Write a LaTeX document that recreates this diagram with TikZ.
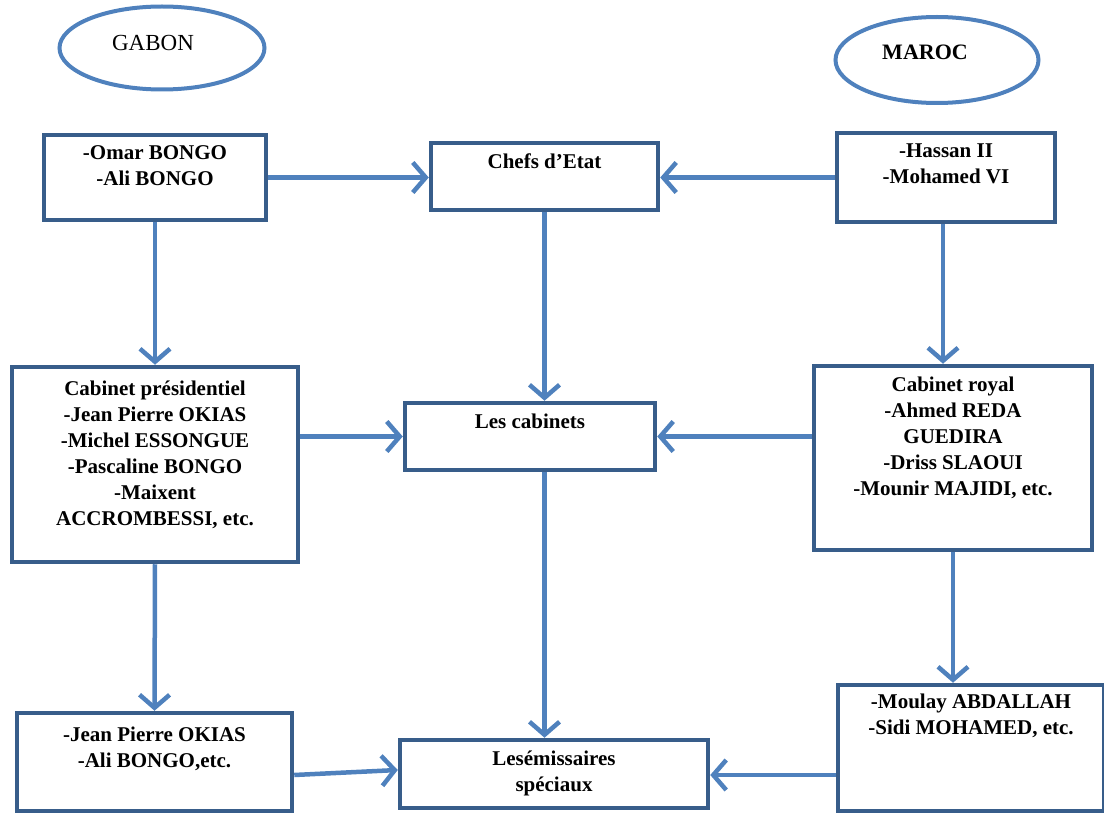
\documentclass[tikz,border=0pt]{standalone}
\usepackage{fontspec}
\setmainfont{Liberation Serif}
\usetikzlibrary{arrows.meta,shapes.geometric,positioning}

\definecolor{boxblue}{HTML}{385D8A}
\definecolor{arrowblue}{HTML}{4F81BD}

\begin{document}
\begin{tikzpicture}[
    x=1pt, y=-1pt,
    arrowstyle/.style={draw=arrowblue, line width=4.5pt,
        -{Straight Barb[length=13pt,width=30pt]}},
    entity/.style={rectangle, draw=boxblue, line width=4.5pt, inner sep=0pt},
    entitytext/.style={anchor=north, inner sep=0pt, yshift=-13pt, align=center,
        font=\fontsize{21}{26}\selectfont\bfseries},
    country/.style={ellipse, draw=arrowblue, line width=4pt, inner sep=0pt}
]
\useasboundingbox (0,0) rectangle (1104,813);

% the two countries
\node (Gabon) [country, minimum width=205pt, minimum height=83pt,
    label={[font=\fontsize{23}{26}\selectfont, xshift=-9pt, yshift=5pt]center:GABON}] at (162,48) {};
\node (Maroc) [country, minimum width=203pt, minimum height=86pt,
    label={[font=\fontsize{22}{26}\selectfont\bfseries, xshift=-12pt, yshift=8pt]center:MAROC}] at (937,60) {};

% heads of state
\node (GabonChef) [entity, minimum width=222pt, minimum height=85pt,
    label={[entitytext]north:-Omar BONGO\\-Ali BONGO}] at (155,177.5) {};
\node (Chefs) [entity, minimum width=227pt, minimum height=67pt,
    label={[entitytext]north:Chefs d'Etat}] at (544.5,176.5) {};
\node (MarocChef) [entity, minimum width=218pt, minimum height=89pt,
    label={[entitytext]north:-Hassan II\\-Mohamed VI}] at (946,177.5) {};

% cabinets
\node (GabonCabinet) [entity, minimum width=286pt, minimum height=195pt,
    label={[entitytext, yshift=-3pt]north:Cabinet présidentiel\\-Jean Pierre OKIAS\\-Michel ESSONGUE\\-Pascaline BONGO\\-Maixent\\ACCROMBESSI, etc.}] at (155,464.5) {};
\node (Cabinets) [entity, minimum width=250pt, minimum height=67pt,
    label={[entitytext]north:Les cabinets}] at (530,436.5) {};
\node (MarocCabinet) [entity, minimum width=278pt, minimum height=184pt,
    label={[entitytext]north:Cabinet royal\\-Ahmed REDA\\GUEDIRA\\-Driss SLAOUI\\-Mounir MAJIDI, etc.}] at (953,458) {};

% special envoys
\node (GabonEmissaire) [entity, minimum width=275pt, minimum height=98pt,
    label={[entitytext, yshift=-3pt]north:-Jean Pierre OKIAS\\-Ali BONGO,etc.}] at (154.5,762) {};
\node (Emissaires) [entity, minimum width=308pt, minimum height=68pt,
    label={[entitytext]north:Lesémissaires\\spéciaux}] at (554,774) {};
\node (MarocEmissaire) [entity, minimum width=266pt, minimum height=126pt,
    label={[entitytext, yshift=2pt]north:-Moulay ABDALLAH\\-Sidi MOHAMED, etc.}] at (971,748) {};

% horizontal links
\draw [arrowstyle] (GabonChef.east) -- (Chefs.west |- GabonChef.east);
\draw [arrowstyle] (MarocChef.west) -- (Chefs.east |- MarocChef.west);
\draw [arrowstyle] (GabonCabinet.east |- Cabinets.west) -- (Cabinets.west);
\draw [arrowstyle] (MarocCabinet.west |- Cabinets.east) -- (Cabinets.east);
\draw [arrowstyle] ([yshift=-13pt]GabonEmissaire.east) -- ([yshift=4pt]Emissaires.west);
\draw [arrowstyle] ([yshift=-27pt]MarocEmissaire.west) -- ([yshift=-1pt]Emissaires.east);

% vertical links
\draw [arrowstyle] (GabonChef.south) -- (GabonCabinet.north);
\draw [arrowstyle] (Chefs.south) -- (Chefs.south |- Cabinets.north);
\draw [arrowstyle] ([xshift=-3pt]MarocChef.south) -- ([xshift=-3pt]MarocChef.south |- MarocCabinet.north);
\draw [arrowstyle] (GabonCabinet.south) -- (GabonEmissaire.north);
\draw [arrowstyle] (Chefs.south |- Cabinets.south) -- (Chefs.south |- Emissaires.north);
\draw [arrowstyle] (MarocCabinet.south) -- (MarocCabinet.south |- MarocEmissaire.north);
\end{tikzpicture}
\end{document}
